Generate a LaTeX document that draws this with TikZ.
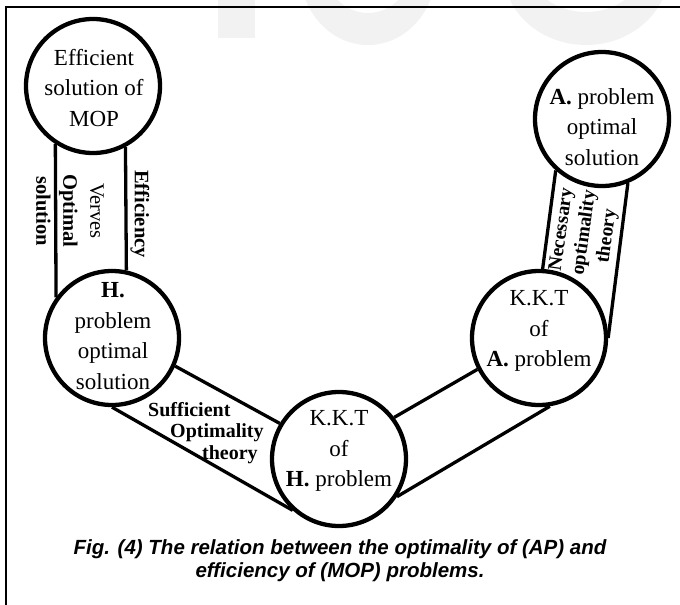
\documentclass[tikz,border=0pt]{standalone}
\usepackage{fontspec}
\setmainfont{Liberation Serif}
\newfontfamily\capfont{Liberation Sans}
\usetikzlibrary{backgrounds}
\begin{document}
\begin{tikzpicture}[x=1pt,y=-1pt,
  bub/.style={circle,draw,line width=4.3pt,minimum size=134pt,inner sep=0pt},
  ctext/.style={align=center,font=\fontsize{23}{30.5}\selectfont,inner sep=0pt},
  lab/.style={align=center,font=\fontsize{20.5}{27}\selectfont\bfseries,inner sep=0pt},
  band/.style={line width=3.3pt},
  frameline/.style={line width=2pt},
  captext/.style={font=\capfont\bfseries\itshape\fontsize{20.5}{23}\selectfont,align=center,inner sep=0pt},
  wm/.style={fill=black!5,draw=none}]
\useasboundingbox (0,0) rectangle (680,605);
% faint watermark
\begin{scope}
\clip (0,0) rectangle (680,605);
\fill[wm] (218,-5) rectangle (255,38);
\fill[wm,even odd rule] (368,-30) ellipse [x radius=68, y radius=75] (368,-30) ellipse [x radius=42, y radius=43];
\fill[wm,even odd rule] (586,-30) ellipse [x radius=83, y radius=75] (586,-30) ellipse [x radius=55, y radius=42];
\end{scope}
% frame
\draw[frameline] (6,606) -- (6,7) -- (681,7);
% circles
\node[bub] (c1) at (93,86) {};
\node[bub] (c2) at (112,338) {};
\node[bub] (c3) at (339,459) {};
\node[bub] (c4) at (539,338) {};
\node[bub] (c5) at (602,119) {};
% circle texts
\node[ctext] (t1) at (94,88) {Efficient\\solution of\\MOP};
\node[ctext] (t2) at (113,336) {\textbf{H.}\\problem\\optimal\\solution};
\node[ctext] (t3) at (339,451) {K.K.T\\of\\\textbf{H.} problem};
\node[ctext] (t4) at (539,331) {K.K.T\\of\\\textbf{A.} problem};
\node[ctext] (t5) at (602,127) {\textbf{A.} problem\\optimal\\solution};
% bands
\begin{scope}[on background layer]
\draw[band] (c1.237.6) -- (c2.144.2);
\draw[band] (c1.298.6) -- (c2.78.3);
\draw[band] (c2.336.3) -- (c3.149.5);
\draw[band] (c2.270.8) -- (c3.228.4);
\draw[band] (c3.37.9) -- (c4.207.3);
\draw[band] (c3.327.3) -- (c4.279);
\draw[band] (c4.87.5) -- (c5.228.6);
\draw[band] (c4.0.8) -- (c5.292.4);
\end{scope}
% labels
\node[lab,rotate=-90,font=\fontsize{20.5}{27}\selectfont] (l1) at (70,211) {Verves\\\textbf{Optimal}\\\textbf{solution}};
\node[lab,rotate=-90] (l2) at (140,214) {Efficiency};
\node[lab,anchor=west,align=left,font=\fontsize{20}{21.5}\selectfont\bfseries] (l3) at (148,433) {Sufficient\\\hspace*{22pt}Optimality\\\hspace*{54pt}theory};
\node[lab,rotate=82,font=\fontsize{19.5}{23}\selectfont\bfseries] (l4) at (585,233) {Necessary\\optimality\\theory};
% caption
\node[captext] (cap) at (340,561) {Fig. (4) The relation between the optimality of (AP) and\\efficiency of (MOP) problems.};
\end{tikzpicture}
\end{document}
